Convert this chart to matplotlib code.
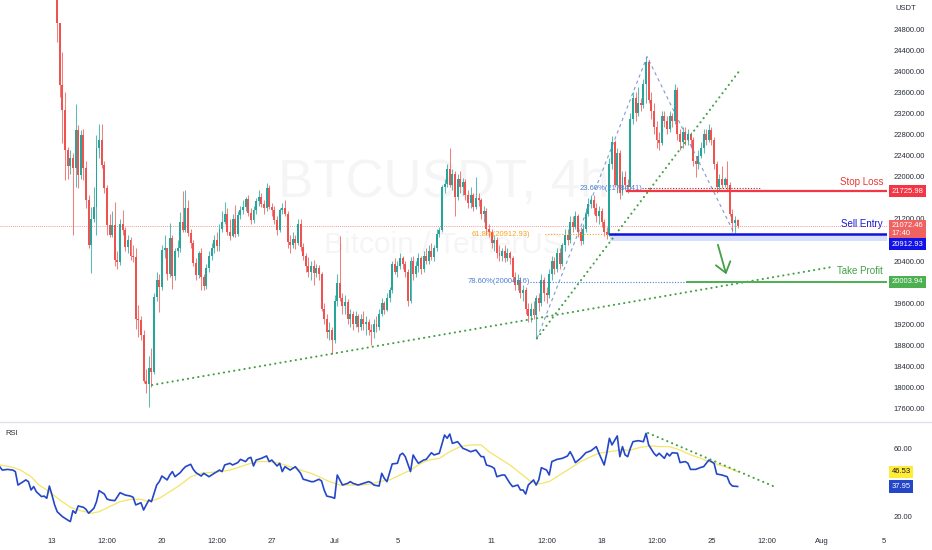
import numpy as np
import matplotlib
matplotlib.use("Agg")
import matplotlib.pyplot as plt
import matplotlib.transforms as mtransforms

plt.rcParams['font.family'] = ['Liberation Sans', 'DejaVu Sans']

# 4h candles. bar k sits at k/6 days after Jun 13 00:00, open = previous close
first_bar = 2
first_open = 25700
closes = [
    24910, 23740, 23265, 22506,
    22200, 22350, 22160, 22880, 22030, 22790,
    22160, 21550, 20700, 21200, 21430, 22540,
    22700, 22220, 21780, 21090, 20900, 21080,
    20420, 20390, 21110, 20990, 20670, 20800,
    20500, 20470, 19300, 19280, 19000, 18120,
    18060, 18380, 18300, 19720, 20040, 19900,
    20610, 20640, 20150, 20830, 20120, 20600,
    20640, 21150, 20990, 21400, 20930, 20740,
    20360, 20140, 20550, 20100, 19920, 20260,
    20500, 20640, 20800, 20680, 21000, 21150,
    21300, 20950, 20880, 21200, 20920, 21270,
    21370, 21420, 21570, 21310, 21180, 21370,
    21530, 21620, 21480, 21400, 21780, 21430,
    21370, 21180, 20990, 21370, 21410, 21300,
    20770, 20700, 20820, 20740, 21100, 20670,
    20500, 20300, 20200, 20310, 20180, 20260,
    20150, 19500, 19300, 19050, 19100, 18900,
    19650, 19980, 19700, 19550, 19620, 19300,
    19400, 19200, 19350, 19150, 19300, 19200,
    19250, 19100, 19050, 19200, 19150, 19400,
    19600, 19480, 19700, 19850, 20350, 20200,
    20300, 20450, 20350, 20200, 19650, 20400,
    20150, 20300, 20450, 20250, 20500, 20400,
    20600, 20480, 20650, 20920, 20980, 21800,
    21860, 22150, 21850, 22050, 21620, 21950,
    21800, 21900, 21650, 21500, 21650, 21420,
    21600, 21550, 21300, 21350, 21000, 20950,
    20750, 20800, 20550, 20500, 20600, 20450,
    20550, 20450, 20100, 19950, 20050, 19800,
    19850, 19500, 19350, 19500, 19380, 19700,
    19600, 20050, 19800, 19750, 20150, 20400,
    20250, 20550, 20350, 20700, 20900, 20800,
    21150, 21050, 21250, 20950, 20780, 21000,
    21300, 21480, 21550, 21400, 21250, 21350,
    21150, 20950, 20900, 22250, 22650, 21850,
    22450, 21700, 22000, 21850, 21800, 23100,
    23500, 23200, 23400, 23350, 23750, 24180,
    23450, 23250, 22950, 22700, 22630, 23150,
    23050, 22900, 23150, 23050, 23650, 22800,
    22650, 22850, 22700, 22800, 22700, 22300,
    22250, 22400, 22550, 22800, 22700, 22880,
    22700, 22250, 21800, 21950, 21850, 21950,
    21850, 21300, 21120, 21170, 21072.46,
]
highs = [
    25900, 24910, 24370, 23600,
    22560, 22500, 22450, 23380, 22980, 22880,
    22900, 22300, 21650, 21430, 21810, 22790,
    23000, 22990, 22300, 21850, 21300, 21350,
    21520, 20600, 21200, 21370, 21050, 20900,
    20850, 20700, 20650, 19560, 19350, 19100,
    18350, 18600, 18750, 19800, 20200, 20150,
    20700, 20900, 20500, 21120, 20900, 20650,
    20800, 21340, 21720, 21750, 21560, 21000,
    20800, 20450, 20600, 20650, 20150, 20350,
    20600, 20750, 20900, 20950, 21100, 21350,
    21520, 21400, 21200, 21300, 21470, 21350,
    21450, 21550, 21620, 21650, 21400, 21450,
    21600, 21750, 21700, 21550, 21880, 21850,
    21500, 21450, 21250, 21400, 21500, 21560,
    21350, 20900, 20950, 20900, 21200, 21200,
    20750, 20560, 20480, 20400, 20420, 20350,
    20330, 20200, 19600, 19400, 19250, 19150,
    19750, 20150, 20880, 19800, 19750, 19680,
    19500, 19450, 19450, 19400, 19400, 19450,
    19350, 19300, 19200, 19300, 19350, 19500,
    19700, 19650, 19800, 19900, 20400, 20450,
    20400, 20550, 20500, 20400, 20250, 20480,
    20500, 20400, 20550, 20500, 20600, 20650,
    20700, 20750, 20700, 21000, 21050, 21850,
    21950, 22250, 22540, 22150, 22100, 22050,
    22100, 21980, 21950, 21750, 21800, 21700,
    22000, 21700, 21600, 21450, 21400, 21100,
    21000, 20900, 20850, 20700, 20650, 20700,
    20650, 20600, 20500, 20200, 20150, 20100,
    19950, 19900, 19600, 19600, 19650, 19750,
    19800, 20150, 20100, 19900, 20250, 20500,
    20480, 20650, 20650, 20750, 21000, 21000,
    21250, 21250, 21350, 21300, 21050, 21100,
    21400, 21600, 21650, 21650, 21500, 21450,
    21400, 21200, 21050, 22350, 22780, 22700,
    22550, 22500, 22100, 22100, 21950, 23200,
    23600, 23600, 23700, 23500, 23850, 24276,
    24220, 23600, 23400, 23050, 22850, 23250,
    23250, 23150, 23250, 23200, 23756, 23700,
    22900, 22950, 22950, 22900, 22850, 22750,
    22400, 22500, 22650, 22900, 22900, 23000,
    22950, 22750, 22300, 22050, 22200, 22000,
    22300, 21900, 21380, 21250, 21200,
]
lows = [
    24560, 23520, 22630, 21940,
    21950, 22050, 20900, 21810, 21780, 21960,
    21940, 21400, 20650, 20170, 21150, 20900,
    22350, 22160, 21700, 20900, 20850, 20850,
    20300, 20250, 20330, 20900, 20600, 20560,
    20420, 20380, 19120, 18970, 18900, 18080,
    17900, 17640, 18020, 18250, 19650, 19440,
    19850, 20450, 20050, 20100, 19880, 20050,
    20480, 20580, 20950, 20950, 20880, 20650,
    20300, 20050, 20080, 19850, 19850, 19880,
    20200, 20420, 20550, 20600, 20600, 20950,
    21100, 20900, 20800, 20850, 20850, 20880,
    21200, 21300, 21350, 21250, 21100, 21120,
    21300, 21450, 21420, 21300, 21350, 21380,
    21250, 21100, 20900, 20950, 21300, 21250,
    20650, 20550, 20650, 20620, 20700, 20600,
    20420, 20200, 20100, 20050, 19950, 20100,
    20050, 19450, 19200, 18950, 18900, 18640,
    18850, 19550, 19650, 19400, 19400, 19200,
    19150, 19100, 19150, 19050, 19100, 19100,
    19000, 19000, 18800, 18950, 19050, 19100,
    19350, 19400, 19450, 19620, 19800, 20150,
    20100, 20250, 20250, 20100, 19550, 19600,
    20050, 20100, 20200, 20150, 20200, 20350,
    20350, 20420, 20400, 20600, 20850, 20950,
    21700, 21800, 21800, 21750, 21250, 21550,
    21700, 21650, 21550, 21400, 21400, 21350,
    21380, 21450, 21200, 21150, 20900, 20850,
    20650, 20600, 20450, 20400, 20400, 20380,
    20400, 20350, 20000, 19850, 19850, 19700,
    19650, 19400, 19250, 19250, 19300, 18930,
    19450, 19550, 19650, 19600, 19700, 20050,
    20150, 20200, 20250, 20300, 20600, 20700,
    20750, 20950, 21000, 20850, 20700, 20720,
    20950, 21250, 21400, 21300, 21150, 21100,
    21050, 20880, 20820, 20880, 22150, 21800,
    21700, 21580, 21650, 21750, 21700, 21750,
    23000, 23050, 23150, 23250, 23300, 23400,
    23400, 23100, 22800, 22550, 22500, 22600,
    22950, 22800, 22850, 22950, 23000, 22700,
    22500, 22550, 22600, 22600, 22550, 22200,
    22000, 22150, 22350, 22450, 22600, 22650,
    22600, 22150, 21700, 21750, 21780, 21800,
    21750, 21250, 20950, 20930, 21020,
]

# RSI (14) readings: bar index and value
rsi_bars = [-20, -19, -17, -15, -14, -13, -12, -10, -9, -8, -7, -6, -4, -3, -2, -1,
            0, 1, 2, 4, 5, 6, 7, 8, 9, 10, 12, 13, 14, 16, 17, 18, 20, 21, 22, 24,
            26, 28, 30, 31, 32, 34, 35, 37, 38, 40, 41, 42, 44, 45, 46, 47, 49, 50,
            51, 53, 54, 55, 57, 58, 59, 60, 62, 64, 65, 66, 68, 69, 71, 72, 74, 75,
            76, 77, 78, 80, 82, 83, 84, 86, 87, 88, 89, 91, 92, 93, 95, 96, 97, 99,
            100, 102, 103, 104, 105, 107, 108, 109, 110, 111, 113, 114, 115, 117,
            119, 121, 122, 123, 125, 126, 127, 128, 130, 132, 133, 134, 135, 137,
            138, 139, 140, 142, 143, 145, 146, 148, 150, 151, 152, 153, 155, 157,
            158, 160, 162, 164, 165, 166, 168, 169, 170, 172, 173, 175, 176, 178,
            179, 180, 181, 182, 184, 185, 186, 187, 189, 190, 191, 193, 195, 197,
            198, 199, 200, 202, 204, 206, 208, 209, 211, 212, 213, 214, 216, 217,
            218, 219, 220, 221, 222, 224, 226, 227, 228, 230, 231, 232, 234, 235,
            236, 237, 239, 240, 242, 243, 244, 246, 248, 249, 250, 251, 253, 254,
            256, 258, 259, 260, 262]
rsi_vals = [49.6, 47.6, 48.0, 47.6, 46.7, 38.8, 39.8, 41.8, 40.8, 35.9, 37.9, 34.9,
            32.0, 32.3, 31.0, 38.2, 32.9, 27.1, 23.1, 20.2, 19.2, 18.2, 17.3, 23.7,
            22.2, 26.5, 25.7, 24.5, 22.2, 25.1, 29.0, 35.5, 33.5, 30.6, 30.0, 29.6,
            34.3, 32.9, 32.3, 31.6, 27.1, 28.4, 24.1, 30.0, 29.0, 38.8, 40.8, 44.1,
            41.8, 44.7, 46.7, 43.7, 46.1, 48.0, 49.6, 51.0, 48.0, 46.1, 44.1, 45.7,
            44.7, 43.7, 45.7, 47.6, 46.7, 50.6, 51.6, 50.6, 52.0, 53.9, 52.6, 54.5,
            55.1, 50.0, 53.5, 54.5, 55.9, 52.6, 53.5, 50.0, 51.6, 46.7, 49.6, 47.6,
            48.6, 49.6, 45.7, 42.2, 41.8, 40.8, 40.8, 42.2, 41.2, 35.9, 32.3, 31.6,
            31.0, 44.7, 41.8, 38.8, 39.8, 40.8, 39.8, 38.8, 39.8, 40.8, 40.2, 38.8,
            38.2, 45.7, 42.7, 40.8, 51.2, 51.6, 56.5, 57.5, 55.5, 46.7, 56.5, 53.9,
            51.6, 53.5, 53.9, 57.8, 56.5, 57.5, 68.2, 66.3, 68.8, 63.3, 64.3, 60.4,
            59.8, 58.4, 59.4, 55.5, 55.5, 50.6, 49.6, 48.6, 43.7, 44.7, 44.7, 39.8,
            37.9, 38.8, 35.9, 35.9, 33.5, 38.8, 41.8, 38.8, 41.8, 49.0, 47.6, 44.7,
            52.6, 53.9, 54.5, 55.9, 58.4, 55.5, 52.0, 54.5, 57.8, 59.0, 61.4, 57.5,
            50.6, 57.5, 66.3, 62.4, 67.7, 55.5, 61.4, 56.5, 55.5, 60.4, 64.3, 64.9,
            64.3, 69.2, 62.4, 57.5, 55.9, 57.5, 54.5, 57.5, 55.9, 57.8, 57.5, 52.0,
            52.6, 51.6, 48.0, 48.0, 49.2, 49.6, 51.6, 53.5, 51.6, 45.3, 44.7, 43.7,
            39.8, 38.2, 37.95]

# RSI-based moving average (yellow)
rsi_ma_bars = [-20, -16, -12, -8, -5, -1, 3, 7, 11, 15, 18, 22, 26, 30, 34, 37, 41, 45,
               49, 53, 57, 60, 64, 68, 72, 76, 79, 83, 87, 91, 95, 99, 102, 106, 110,
               114, 118, 122, 125, 129, 133, 137, 141, 144, 148, 152, 156, 160, 164,
               167, 171, 175, 179, 183, 186, 190, 194, 198, 202, 206, 209, 213, 217,
               221, 225, 229, 232, 236, 240, 244, 248, 251, 255, 259, 262]
rsi_ma_vals = [50.6, 49.6, 47.6, 43.7, 38.8, 34.9, 30.0, 25.7, 23.7, 22.2, 23.1, 26.1,
               29.0, 30.4, 30.4, 29.0, 31.0, 34.9, 38.8, 43.7, 45.7, 46.1, 46.7, 47.6,
               49.6, 51.6, 52.6, 52.6, 51.6, 49.6, 47.6, 45.7, 43.7, 40.8, 38.8, 38.8,
               38.8, 39.4, 40.8, 41.8, 44.7, 47.6, 51.6, 53.5, 54.5, 58.4, 61.4, 62.4,
               62.4, 58.4, 54.5, 50.6, 45.7, 40.8, 39.4, 40.8, 44.7, 48.6, 52.6, 55.5,
               57.5, 58.4, 59.4, 59.4, 61.0, 61.8, 61.4, 61.4, 59.4, 56.5, 54.5, 52.6,
               50.6, 48.6, 46.53]

# time axis (days after Jun 13 00:00)
tick_days = [0, 3.5, 7, 10.5, 14, 18, 22, 28, 31.5, 35, 38.5, 42, 45.5, 49, 53]
tick_labels = ["13", "12:00", "20", "12:00", "27", "Jul", "5", "11", "12:00",
               "18", "12:00", "25", "12:00", "Aug", "5"]
price_ticks = [17600, 18000, 18400, 18800, 19200, 19600, 20400, 21200,
               22000, 22400, 22800, 23200, 23600, 24000, 24400, 24800]
rsi_ticks = [20, 60]

stop_loss = 21725.98
sell_entry = 20912.93
take_profit = 20003.94
last_price = 21072.46
fib_236 = 21784.41
fib_618 = 20912.93
fib_786 = 20004.16
rsi_last = 37.95
rsi_ma_last = 46.53

# drawings: (days, values)
lower_trend = ([6.37, 49.68], [18050, 20288])
steep_trend = ([30.89, 43.82], [18935, 24023])
fib_path = ([30.89, 37.9, 43.44], [18935, 24276, 20930])
rsi_trend = ([37.96, 45.92], [69.4, 38.2])
arrow_start = (42.36, 20761)
arrow_end = (42.99, 20098)

UP = '#26a69a'
DOWN = '#ef5350'
TXT = '#2a2e39'
X0, X1 = -3.312, 53.18

fig = plt.figure(figsize=(9.32, 5.5), dpi=100)
ax = fig.add_axes([0, 1 - 422 / 550, 887 / 932, 422 / 550])
ax2 = fig.add_axes([0, 20 / 550, 887 / 932, 107 / 550])

closes = np.array(closes, dtype=float)
highs = np.array(highs, dtype=float)
lows = np.array(lows, dtype=float)
opens = np.r_[first_open, closes[:-1]]
bars = np.arange(first_bar, first_bar + len(closes))
t = bars / 6.0
cols = np.where(closes >= opens, UP, DOWN)
top = np.maximum(highs, np.maximum(opens, closes))
bot = np.minimum(lows, np.minimum(opens, closes))

ax.vlines(t, bot, top, colors=cols, lw=0.75, alpha=0.75, zorder=3)
ax.bar(t, np.maximum(np.abs(closes - opens), 14), bottom=np.minimum(opens, closes),
       width=0.125, color=cols, linewidth=0, zorder=4)

# watermark
wm = (0.45, 0.47, 0.53, 0.07)
ax.text(0.5, 0.566, "BTCUSDT, 4h", transform=ax.transAxes, ha='center', va='center',
        fontsize=38, color=wm, zorder=0)
ax.text(0.5, 0.42, "Bitcoin / TetherUS", transform=ax.transAxes, ha='center', va='center',
        fontsize=21.5, color=wm, zorder=0)

# last price line
ax.axhline(last_price, color=DOWN, lw=0.6, ls=(0, (1, 1.5)), alpha=0.8, zorder=2)

# trend lines
dots = dict(color='#43a047', lw=1.5, ls=(0, (0.1, 2.4)), dash_capstyle='round', zorder=5)
ax.plot(*lower_trend, **dots)
ax.plot(*steep_trend, **dots)
ax.plot(*fib_path, color='#5d82c9', lw=0.8, ls=(0, (3, 3)), alpha=0.8, zorder=5)

# fib levels
ax.plot([37.58, 45.1], [fib_236, fib_236], color='#b71c1c', lw=0.8, ls=(0, (1, 1.5)), zorder=5)
ax.plot([31.40, 45.1], [fib_618, fib_618], color='#f5a623', lw=0.8, ls=(0, (1, 1.5)), zorder=5)
ax.plot([30.45, 43.8], [fib_786, fib_786], color='#4a7fd6', lw=0.8, ls=(0, (1, 1.5)), zorder=5)
ax.text(37.58, fib_236, "23.60%(21784.41)", ha='right', va='center', fontsize=5.5,
        color='#4a7fd6', zorder=6)
ax.text(30.45, fib_618, "61.8%(20912.93)", ha='right', va='center', fontsize=5.5,
        color='#f5a623', zorder=6)
ax.text(30.45, fib_786, "78.60%(20004.16)", ha='right', va='center', fontsize=5.5,
        color='#4a7fd6', zorder=6)

# trade levels
ax.fill_between([35.54, X1], sell_entry - 125, sell_entry, color='#d6e0fa', lw=0, zorder=1)
ax.plot([36.62, X1], [stop_loss, stop_loss], color='#f23645', lw=1.6, zorder=6)
ax.plot([35.54, X1], [sell_entry, sell_entry], color='#1212dd', lw=1.8, zorder=6)
ax.plot([40.45, X1], [take_profit, take_profit], color='#4caf50', lw=1.4, zorder=6)
for txt, lvl, c, dy in [("Stop Loss", stop_loss, '#e53935', 9),
                        ("Sell Entry", sell_entry, '#1a1ad0', 10),
                        ("Take Profit", take_profit, '#43a047', 11)]:
    ax.annotate(txt, xy=(52.93, lvl), xytext=(0, dy), textcoords='offset pixels',
                ha='right', va='center', fontsize=7, color=c, zorder=7)

ax.annotate('', xy=arrow_end, xytext=arrow_start,
            arrowprops=dict(arrowstyle='->,head_length=0.6,head_width=0.45',
                            color='#43a047', lw=1.3, mutation_scale=12), zorder=7)

ax.set_xlim(X0, X1)
ax.set_ylim(17349, 25350)
ax.set_xticks([])
ax.yaxis.tick_right()
ax.set_yticks(price_ticks)
ax.set_yticklabels(["%.2f" % v for v in price_ticks])
ax.tick_params(axis='y', length=0, pad=4.5, labelsize=5.5, labelcolor=TXT)
for s in ax.spines.values():
    s.set_visible(False)

# RSI pane
ax2.plot(np.array(rsi_ma_bars) / 6.0, rsi_ma_vals, color='#f3e565', lw=0.9, zorder=3)
ax2.plot(np.array(rsi_bars) / 6.0, rsi_vals, color='#2447c9', lw=1.2, zorder=4)
ax2.plot(*rsi_trend, **dots)
ax2.set_xlim(X0, X1)
ax2.set_ylim(12.35, 75.29)
ax2.yaxis.tick_right()
ax2.set_yticks(rsi_ticks)
ax2.set_yticklabels(["%.2f" % v for v in rsi_ticks])
ax2.set_xticks(tick_days)
ax2.set_xticklabels(tick_labels)
ax2.tick_params(axis='both', length=0, labelsize=5.5, labelcolor=TXT)
ax2.tick_params(axis='y', pad=4.5)
ax2.tick_params(axis='x', pad=6)
for s in ax2.spines.values():
    s.set_visible(False)
ax2.text(0.006, 0.905, "RSI", transform=ax2.transAxes, fontsize=5.5, color=TXT, va='center')


def tag(axis, value, text, face, color='white', dy=0):
    tr = mtransforms.blended_transform_factory(fig.transFigure, axis.transData)
    axis.annotate(text, xy=(891.5 / 932, value), xycoords=tr, xytext=(0, dy),
                  textcoords='offset pixels', ha='left', va='center', fontsize=5.5,
                  color=color, linespacing=1.15, annotation_clip=False, zorder=10,
                  bbox=dict(boxstyle='square,pad=0.35', fc=face, ec='none'))


tag(ax, stop_loss, "%.2f" % stop_loss, '#f23645')
tag(ax, last_price, "%.2f\n17:40" % last_price, '#f06262', dy=-4)
tag(ax, sell_entry, "%.2f" % sell_entry, '#1212e6', dy=-10)
tag(ax, take_profit, "%.2f" % take_profit, '#4caf50')
tag(ax2, rsi_ma_last, "%.2f" % rsi_ma_last, '#ffeb3b', color='#131722')
tag(ax2, rsi_last, "%.2f" % rsi_last, '#2447c9')

fig.text(895 / 932, 1 - 9 / 550, "USDT", fontsize=5.5, color=TXT, va='center')
fig.add_artist(plt.Line2D([0, 1], [1 - 421.5 / 550] * 2, transform=fig.transFigure,
                          color='#e0e3eb', lw=1))

fig.savefig("out.png", dpi=100)
